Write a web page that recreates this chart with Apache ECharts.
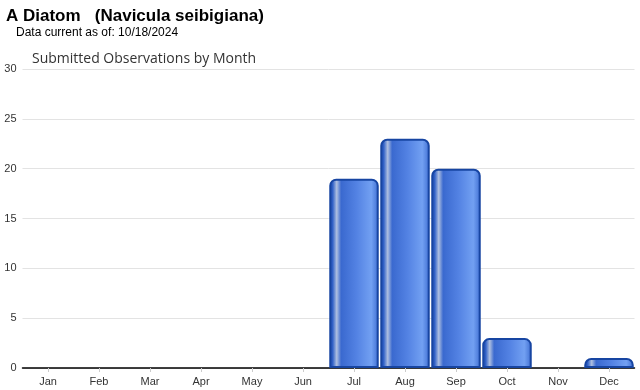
<!DOCTYPE html>
<html><head><meta charset="utf-8">
<script src="https://cdn.jsdelivr.net/npm/echarts@6/dist/echarts.min.js"></script>
<style>html,body{margin:0;padding:0;background:#fff}#c{width:640px;height:390px}</style>
</head><body><div id="c"></div>
<script>
const months = ['Jan','Feb','Mar','Apr','May','Jun','Jul','Aug','Sep','Oct','Nov','Dec'];
const observations = [0,0,0,0,0,0,19,23,20,3,0,1];
const yTicks = [0,5,10,15,20,25,30];

const chart = echarts.init(document.getElementById('c'), null, {renderer:'canvas'});
const grad = new echarts.graphic.LinearGradient(0,0,1,0,[
  {offset:0, color:'#1a45a0'},
  {offset:0.07, color:'#3262c8'},
  {offset:0.15, color:'#aebfe0'},
  {offset:0.24, color:'#3a69cf'},
  {offset:0.55, color:'#5382e3'},
  {offset:0.85, color:'#72a0f2'},
  {offset:0.95, color:'#4f7edc'},
  {offset:1, color:'#2350b4'}
]);
chart.setOption({
  animation:false,
  title:[
    {text:'A Diatom   (Navicula seibigiana)', left:1, top:3,
     textStyle:{fontFamily:'Liberation Sans, Arial', fontWeight:'bold', fontSize:17, color:'#000'}},
    {text:'Data current as of: 10/18/2024', left:11, top:22,
     textStyle:{fontFamily:'Liberation Sans, Arial', fontWeight:'normal', fontSize:12, color:'#000'}},
    {text:'Submitted Observations by Month', left:27, top:47,
     textStyle:{fontFamily:'Open Sans, Liberation Sans, Arial', fontWeight:'normal', fontSize:14, color:'#333'}}
  ],
  grid:{left:22.5, right:5.5, top:69, bottom:22, containLabel:false},
  xAxis:{type:'category', data:months,
    axisLine:{lineStyle:{color:'#000', width:1.5}},
    axisTick:{show:true, alignWithLabel:true, length:4, lineStyle:{color:'#ccc'}},
    axisLabel:{fontFamily:'Liberation Sans, Arial', fontSize:11, color:'#333', margin:8}},
  yAxis:{type:'value', min:yTicks[0], max:yTicks[yTicks.length-1], interval:5,
    axisLine:{show:false}, axisTick:{show:false},
    axisLabel:{fontFamily:'Liberation Sans, Arial', fontSize:11, color:'#333', margin:6},
    splitLine:{lineStyle:{color:'#e3e3e3'}}},
  series:[{type:'bar', data:observations.map(v => v === 0 ? '-' : v), barCategoryGap:'3%', z:1,
    itemStyle:{color:grad, borderColor:'#1745a2', borderWidth:2, borderRadius:[6,6,0,0]}}]
});
</script></body></html>
